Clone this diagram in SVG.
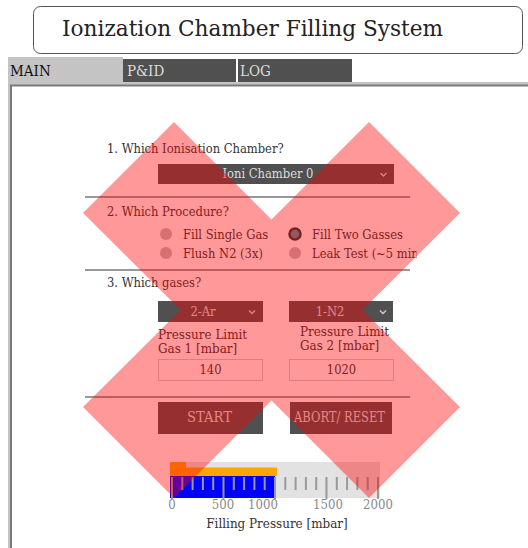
<svg xmlns="http://www.w3.org/2000/svg" width="528" height="548" viewBox="0 0 528 548">
<defs>
<style>
.t{font-family:"DejaVu Serif Condensed","DejaVu Serif","Liberation Serif",serif;fill:#333;font-size:12.8px}
.lt{fill:#dddddd}
.dd{fill:#505050}
.chev{fill:none;stroke:#cccccc;stroke-width:1.5}
.sep{stroke:#333;stroke-width:1.2}
.radio{fill:#bdbdbd}
.inp{fill:#fff;stroke:#cfcfcf;stroke-width:1}
.tick{stroke:#999;stroke-width:2}
.sc{fill:#888;font-size:13px}
.pl{font-size:13.3px}
.tab{font-size:15px}
.btn{font-size:15.5px}
.ttl{font-size:23px;fill:#222}
</style>
<clipPath id="clipLeak"><rect x="300" y="240" width="116.5" height="25"/></clipPath>
</defs>
<rect width="528" height="548" fill="#fff"/>

<g id="title">
<rect x="33.5" y="6.5" width="489" height="47" rx="7" fill="#fff" stroke="#555" stroke-width="1"/>
<text class="t ttl" x="62" y="36" textLength="381" lengthAdjust="spacingAndGlyphs">Ionization Chamber Filling System</text>
</g>

<g id="panel">
<rect x="8" y="82" width="520" height="466" fill="#c4c4c4"/>
<rect x="11" y="85.5" width="520" height="470" fill="#fff" stroke="#7a7a7a" stroke-width="2"/>
</g>

<g id="tabs">
<rect x="8" y="57" width="115" height="27" fill="#c4c4c4"/>
<text class="t tab" x="10" y="76" fill="#111" style="fill:#111">MAIN</text>
<rect x="123" y="59" width="113" height="23" fill="#505050"/>
<text class="t tab lt" x="127" y="76">P&amp;ID</text>
<rect x="238" y="59" width="114" height="23" fill="#505050"/>
<text class="t tab lt" x="240" y="76">LOG</text>
</g>

<g id="separators">
<line class="sep" x1="85" y1="197" x2="410" y2="197"/>
<line class="sep" x1="85" y1="270" x2="410" y2="270"/>
<line class="sep" x1="85" y1="397" x2="410" y2="397"/>
</g>

<g id="q1">
<text class="t" x="107" y="153">1. Which Ionisation Chamber?</text>
<rect class="dd" x="158" y="164" width="236" height="20"/>
<text class="t lt" x="268" y="178" text-anchor="middle">Ioni Chamber 0</text>
<path class="chev" d="M380.5,173 L383.5,176 L386.5,173"/>
</g>

<g id="q2">
<text class="t" x="107" y="216">2. Which Procedure?</text>
<circle class="radio" cx="166" cy="234" r="6"/>
<text class="t" x="183" y="238.5">Fill Single Gas</text>
<circle class="radio" cx="166" cy="253" r="6"/>
<text class="t" x="183" y="257.5">Flush N2 (3x)</text>
<circle cx="295" cy="234" r="5.5" fill="#3f9aa6" stroke="#333" stroke-width="2.5"/>
<text class="t" x="312" y="238.5">Fill Two Gasses</text>
<circle class="radio" cx="295" cy="253" r="6"/>
<text class="t" x="312" y="257.5" clip-path="url(#clipLeak)">Leak Test (~5 min)</text>
</g>

<g id="q3">
<text class="t" x="107" y="287">3. Which gases?</text>
<rect class="dd" x="158" y="301" width="105" height="21"/>
<text class="t lt" x="203" y="316" text-anchor="middle">2-Ar</text>
<path class="chev" d="M249,310.5 L252,313.5 L255,310.5"/>
<rect class="dd" x="289" y="301" width="104" height="21"/>
<text class="t lt" x="330" y="316" text-anchor="middle">1-N2</text>
<path class="chev" d="M380,310.5 L383,313.5 L386,310.5"/>
</g>

<g id="limit1">
<text class="t pl" x="158" y="339">Pressure Limit</text>
<text class="t pl" x="158" y="353">Gas 1 [mbar]</text>
<rect class="inp" x="158.5" y="359.5" width="104" height="21"/>
<text class="t" x="210.5" y="374" text-anchor="middle">140</text>
</g>

<g id="limit2">
<text class="t pl" x="300" y="336">Pressure Limit</text>
<text class="t pl" x="300" y="350">Gas 2 [mbar]</text>
<rect class="inp" x="289.5" y="359.5" width="104" height="21"/>
<text class="t" x="341.5" y="374" text-anchor="middle">1020</text>
</g>

<g id="start">
<rect class="dd" x="158" y="402" width="105" height="32"/>
<text class="t btn lt" x="187" y="421.5" textLength="45" lengthAdjust="spacingAndGlyphs">START</text>
</g>

<g id="abort">
<rect class="dd" x="290" y="402" width="102" height="32"/>
<text class="t btn lt" x="294" y="421.5" textLength="91" lengthAdjust="spacingAndGlyphs">ABORT/ RESET</text>
</g>

<g id="gauge">
<rect x="170" y="462" width="210" height="36" fill="#e2e2e2"/>
<rect x="170" y="462" width="16" height="14" fill="#ffa500"/>
<rect x="170" y="467.5" width="107" height="8.5" fill="#ffa500"/>
<rect x="170" y="476" width="105" height="22" fill="#0000ff"/>
<g class="tick">
<line x1="172" y1="477" x2="172" y2="499"/>
<line x1="182.3" y1="477" x2="182.3" y2="490"/>
<line x1="192.6" y1="477" x2="192.6" y2="490"/>
<line x1="202.9" y1="477" x2="202.9" y2="490"/>
<line x1="213.2" y1="477" x2="213.2" y2="490"/>
<line x1="223.5" y1="477" x2="223.5" y2="499"/>
<line x1="233.8" y1="477" x2="233.8" y2="490"/>
<line x1="244.1" y1="477" x2="244.1" y2="490"/>
<line x1="254.4" y1="477" x2="254.4" y2="490"/>
<line x1="264.7" y1="477" x2="264.7" y2="490"/>
<line x1="275" y1="477" x2="275" y2="499"/>
<line x1="285.3" y1="477" x2="285.3" y2="490"/>
<line x1="295.6" y1="477" x2="295.6" y2="490"/>
<line x1="305.9" y1="477" x2="305.9" y2="490"/>
<line x1="316.2" y1="477" x2="316.2" y2="490"/>
<line x1="326.5" y1="477" x2="326.5" y2="499"/>
<line x1="336.8" y1="477" x2="336.8" y2="490"/>
<line x1="347.1" y1="477" x2="347.1" y2="490"/>
<line x1="357.4" y1="477" x2="357.4" y2="490"/>
<line x1="367.7" y1="477" x2="367.7" y2="490"/>
<line x1="378" y1="477" x2="378" y2="499"/>
</g>
<text class="t sc" x="172" y="509" text-anchor="middle">0</text>
<text class="t sc" x="223" y="509" text-anchor="middle">500</text>
<text class="t sc" x="263" y="509" text-anchor="middle">1000</text>
<text class="t sc" x="328" y="509" text-anchor="middle">1500</text>
<text class="t sc" x="378" y="509" text-anchor="middle">2000</text>
<text class="t pl" x="277" y="528" text-anchor="middle">Filling Pressure [mbar]</text>
</g>

<g id="cross">
<path d="M174,122 L271.5,219.5 L369,122 L460,213 L362.5,310 L460,407 L369,498 L271.5,400.5 L174,498 L83,407 L180.5,310 L83,213 Z" fill="#ff0000" fill-opacity="0.4"/>
</g>
</svg>
